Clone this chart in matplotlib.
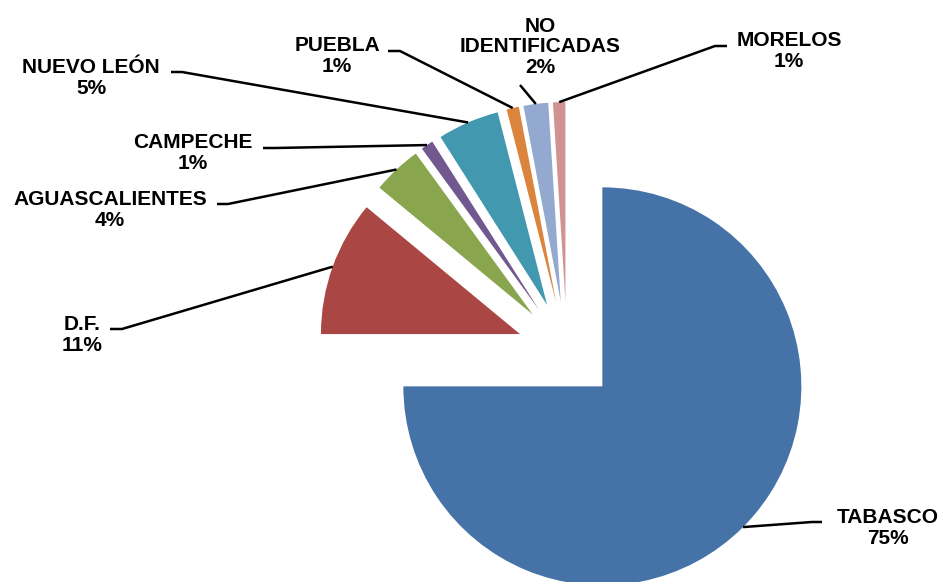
import numpy as np
import matplotlib.pyplot as plt

# data
estados = ['TABASCO', 'D.F.', 'AGUASCALIENTES', 'CAMPECHE', 'NUEVO LEÓN',
           'PUEBLA', 'NO\nIDENTIFICADAS', 'MORELOS']
porcentajes = [75, 11, 4, 1, 5, 1, 2, 1]
colores = ['#4572A7', '#AA4643', '#89A54E', '#71588F', '#4198AF',
           '#DB843D', '#93A9CF', '#D19392']

# layout (pixel coords, y down)
W, H = 946, 582
centro_px = (567, 351)
radio = 199
separacion = 50   # explode offset in pixels (pie does not scale it by radius)
pos_etiquetas = [(888, 528), (82, 335), (110, 210), (193, 153), (91, 78),
                 (337, 56), (540, 47), (789, 51)]
codos = [[(822, 522), (812, 522)],
         [(110, 329), (122, 329)],
         [(217, 204), (228, 204)],
         [(263, 148), (275, 148)],
         [(171, 72), (182, 72)],
         [(388, 51), (400, 51)],
         [(520, 85)],
         [(727, 46), (715, 46)]]


def px(x, y):
    return x, H - y


fig = plt.figure(figsize=(W / 100, H / 100), dpi=100)
ax = fig.add_axes([0, 0, 1, 1])

wedges, _ = ax.pie(porcentajes, colors=colores, startangle=90, counterclock=False,
                   explode=[separacion] * len(porcentajes), radius=radio,
                   center=px(*centro_px), wedgeprops=dict(linewidth=0))

ax.set_xlim(0, W)
ax.set_ylim(0, H)
ax.set_aspect('equal')
ax.axis('off')

for w, nombre, pct, pos, codo in zip(wedges, estados, porcentajes, pos_etiquetas, codos):
    mid = np.deg2rad((w.theta1 + w.theta2) / 2)
    ax_pt = (w.center[0] + w.r * np.cos(mid), w.center[1] + w.r * np.sin(mid))
    pts = [px(*p) for p in codo] + [ax_pt]
    xs, ys = zip(*pts)
    ax.plot(xs, ys, color='black', lw=1.8, solid_capstyle='butt')
    ax.text(*px(*pos), f'{nombre}\n{pct}%', ha='center', va='center',
            multialignment='center', fontsize=15, fontweight='bold',
            family=['Liberation Sans', 'DejaVu Sans'], linespacing=1.08)

fig.savefig('out.png', dpi=100)
